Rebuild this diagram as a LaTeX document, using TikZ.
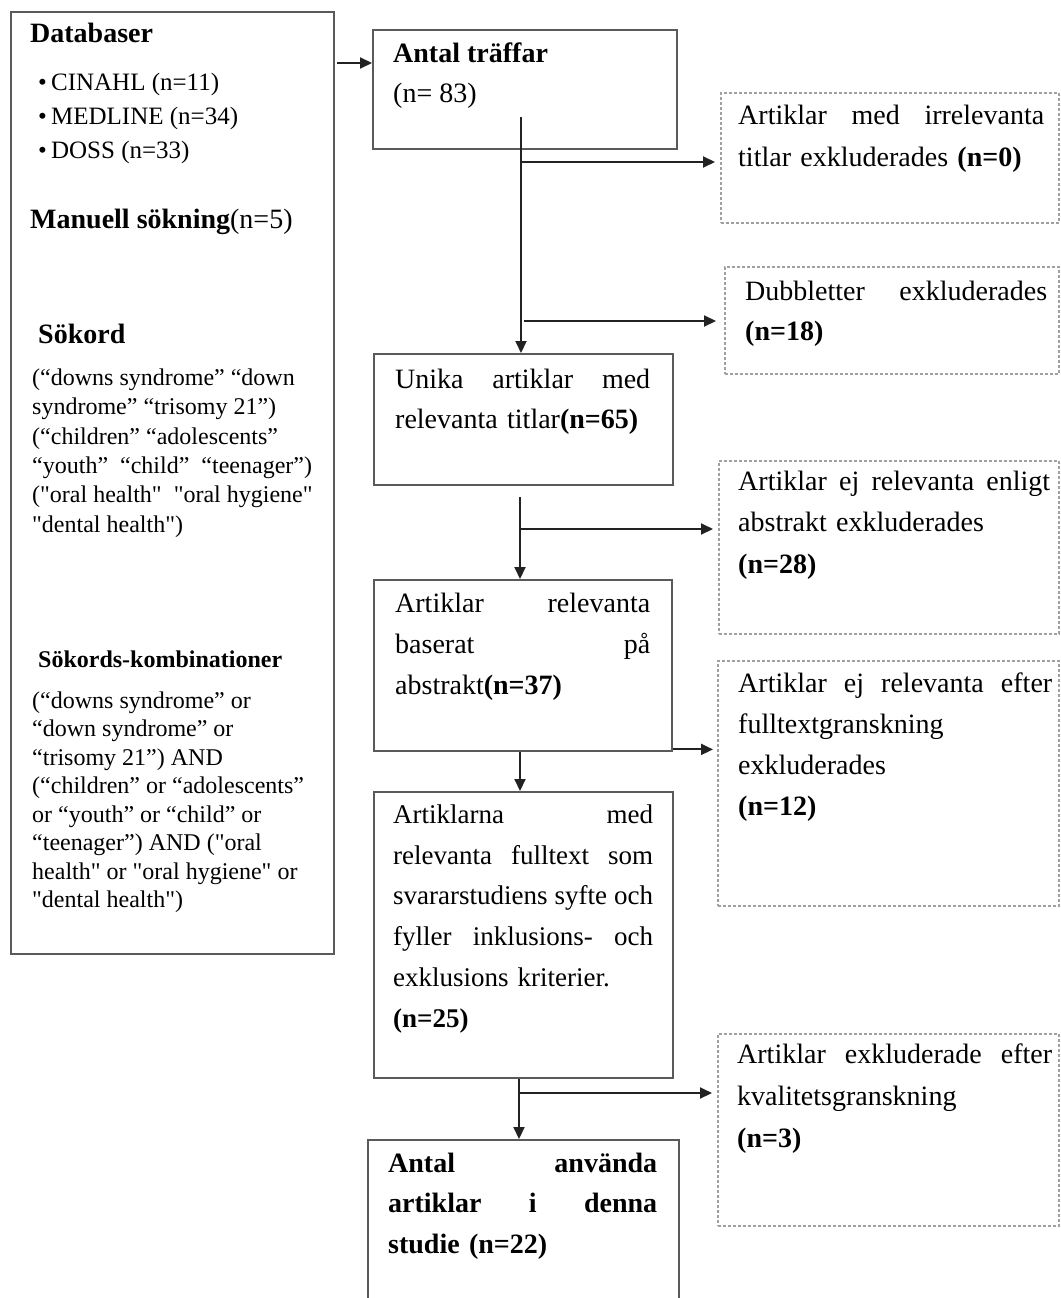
\documentclass[tikz,border=0pt]{standalone}
\usepackage{fontspec}
\setmainfont{Liberation Serif}[Ligatures=TeXOff]
\usetikzlibrary{arrows.meta}
\definecolor{boxgray}{HTML}{5A5A5A}
\definecolor{dashgray}{HTML}{A0A0A0}
\definecolor{inkc}{HTML}{222222}
\newcommand{\fsz}[2]{\fontsize{#1}{#2}\selectfont}
\newcommand{\tstrut}{\rule{0pt}{30pt}}
\tikzset{
  solidbox/.style={draw=boxgray, line width=2.4pt, rectangle, inner sep=0pt, anchor=north west},
  dashbox/.style={draw=dashgray, line width=1.6pt, dash pattern=on 3pt off 2pt, rectangle, inner sep=0pt, anchor=north west},
  flow/.style={draw=inkc, line width=2pt, -{Triangle[length=12pt,width=11pt]}},
  txt/.style={anchor=north west, inner sep=0pt, align=left, text=black},
}
\begin{document}
\begin{tikzpicture}[x=1pt,y=-1pt]
\clip (0,0) rectangle (1060,1298);
\fill[white] (0,0) rectangle (1060,1298);

% boxes
\node[solidbox, minimum width=323pt, minimum height=942pt] (left) at (10,11) {};
\node[solidbox, minimum width=304pt, minimum height=119pt] (antal) at (372,29) {};
\node[dashbox, minimum width=338pt, minimum height=130pt] (d1) at (720,92) {};
\node[dashbox, minimum width=334pt, minimum height=107pt] (d2) at (724,266) {};
\node[solidbox, minimum width=299pt, minimum height=131pt] (unika) at (373,353) {};
\node[dashbox, minimum width=340pt, minimum height=173pt] (d3) at (718,460) {};
\node[solidbox, minimum width=298pt, minimum height=171pt] (artrel) at (373,579) {};
\node[dashbox, minimum width=341pt, minimum height=245pt] (d4) at (717,660) {};
\node[solidbox, minimum width=299pt, minimum height=286pt] (artna) at (373,791) {};
\node[dashbox, minimum width=341pt, minimum height=192pt] (d5) at (717,1033) {};
\node[solidbox, minimum width=311pt, minimum height=200pt] (used) at (367,1139) {};

% left box texts
\node[txt, font=\fsz{28}{34}] (lb1) at (30,12) {\tstrut\textbf{Databaser}};
\node[txt, font=\fsz{25}{34}] (lb2) at (38,60) {\tstrut\textbullet\,CINAHL (n=11)\\\textbullet\,MEDLINE (n=34)\\\textbullet\,DOSS (n=33)};
\node[txt, font=\fsz{28}{34}] (lb3) at (30,198) {\tstrut\textbf{Manuell sökning}(n=5)};
\node[txt, font=\fsz{28}{34}] (lb4) at (38,313) {\tstrut\textbf{Sökord}};
\node[txt, font=\fsz{24}{29.4}] (lb5) at (32,355) {\tstrut(“downs syndrome” “down\\
syndrome” “trisomy 21”)\\
(“children”  “adolescents”\\
“youth”~ “child”~ “teenager”)\\
("oral health"~ "oral hygiene"\\
"dental health")};
\node[txt, font=\fsz{24}{29}] (lb6) at (38,637) {\tstrut\textbf{Sökords-kombinationer}};
\node[txt, font=\fsz{24}{28.5}] (lb7) at (32,678) {\tstrut(“downs syndrome” or\\
“down syndrome” or\\
“trisomy 21”) AND\\
(“children” or “adolescents”\\
or “youth” or “child” or\\
“teenager”) AND ("oral\\
health" or "oral hygiene" or\\
"dental health")};

% middle texts
\node[txt, font=\fsz{28}{40}] (tA) at (393,32) {\tstrut\textbf{Antal träffar}\\(n= 83)};
\node[txt, text width=255pt, font=\fsz{28}{40}] (tU) at (395,358) {\tstrut Unika\hfill artiklar\hfill med\\relevanta titlar\textbf{(n=65)}};
\node[txt, text width=255pt, font=\fsz{28}{41}] (tR) at (395,582) {\tstrut Artiklar\hfill relevanta\\baserat\hfill på\\abstrakt\textbf{(n=37)}};
\node[txt, text width=260pt, font=\fsz{27}{40.8}] (tN) at (393,793) {\tstrut Artiklarna\hfill med\\relevanta\hfill fulltext\hfill som\\svararstudiens\hfill syfte\hfill och\\fyller\hfill inklusions-\hfill och\\exklusions kriterier.\\\textbf{(n=25)}};
\node[txt, text width=269pt, font=\fsz{28}{40.5}\bfseries] (tE) at (388,1142) {\tstrut Antal\hfill använda\\artiklar\hfill i\hfill denna\\studie (n=22)};

% right texts
\node[txt, text width=306pt, font=\fsz{28}{42}] (t1) at (738,94) {\tstrut Artiklar\hfill med\hfill irrelevanta\\titlar exkluderades \textbf{(n=0)}};
\node[txt, text width=302pt, font=\fsz{28}{40}] (t2) at (745,270) {\tstrut Dubbletter\hfill exkluderades\\\textbf{(n=18)}};
\node[txt, text width=312pt, font=\fsz{28}{41.5}] (t3) at (738,460) {\tstrut Artiklar\hfill ej\hfill relevanta\hfill enligt\\abstrakt exkluderades\\\textbf{(n=28)}};
\node[txt, text width=314pt, font=\fsz{28}{41}] (t4) at (738,662) {\tstrut Artiklar\hfill ej\hfill relevanta\hfill efter\\fulltextgranskning\\exkluderades\\\textbf{(n=12)}};
\node[txt, text width=315pt, font=\fsz{28}{42}] (t5) at (737,1033) {\tstrut Artiklar\hfill exkluderade\hfill efter\\kvalitetsgranskning\\\textbf{(n=3)}};

% connectors
\coordinate (c0) at (337,63);
\draw[flow] (c0) -- (c0 -| antal.west);
\coordinate (v1) at (521,117);
\draw[flow] (v1) -- (v1 |- unika.north);
\coordinate (b1) at (521,162);
\draw[flow, shorten >=5pt] (b1) -- (b1 -| d1.west);
\coordinate (b2) at (524,321);
\draw[flow, shorten >=8pt] (b2) -- (b2 -| d2.west);
\coordinate (v2) at (520,497);
\draw[flow] (v2) -- (v2 |- artrel.north);
\coordinate (b3) at (520,529);
\draw[flow, shorten >=5pt] (b3) -- (b3 -| d3.west);
\coordinate (b4) at ([yshift=3pt]artrel.south east);
\draw[flow, shorten >=4pt] (b4) -- (b4 -| d4.west);
\draw[flow] (artrel.south -| v2) -- (artna.north -| v2);
\coordinate (v4) at (519,1077);
\draw[flow] (artna.south -| v4) -- (used.north -| v4);
\coordinate (b5) at (519,1093);
\draw[flow, shorten >=5pt] (b5) -- (b5 -| d5.west);
\end{tikzpicture}
\end{document}
